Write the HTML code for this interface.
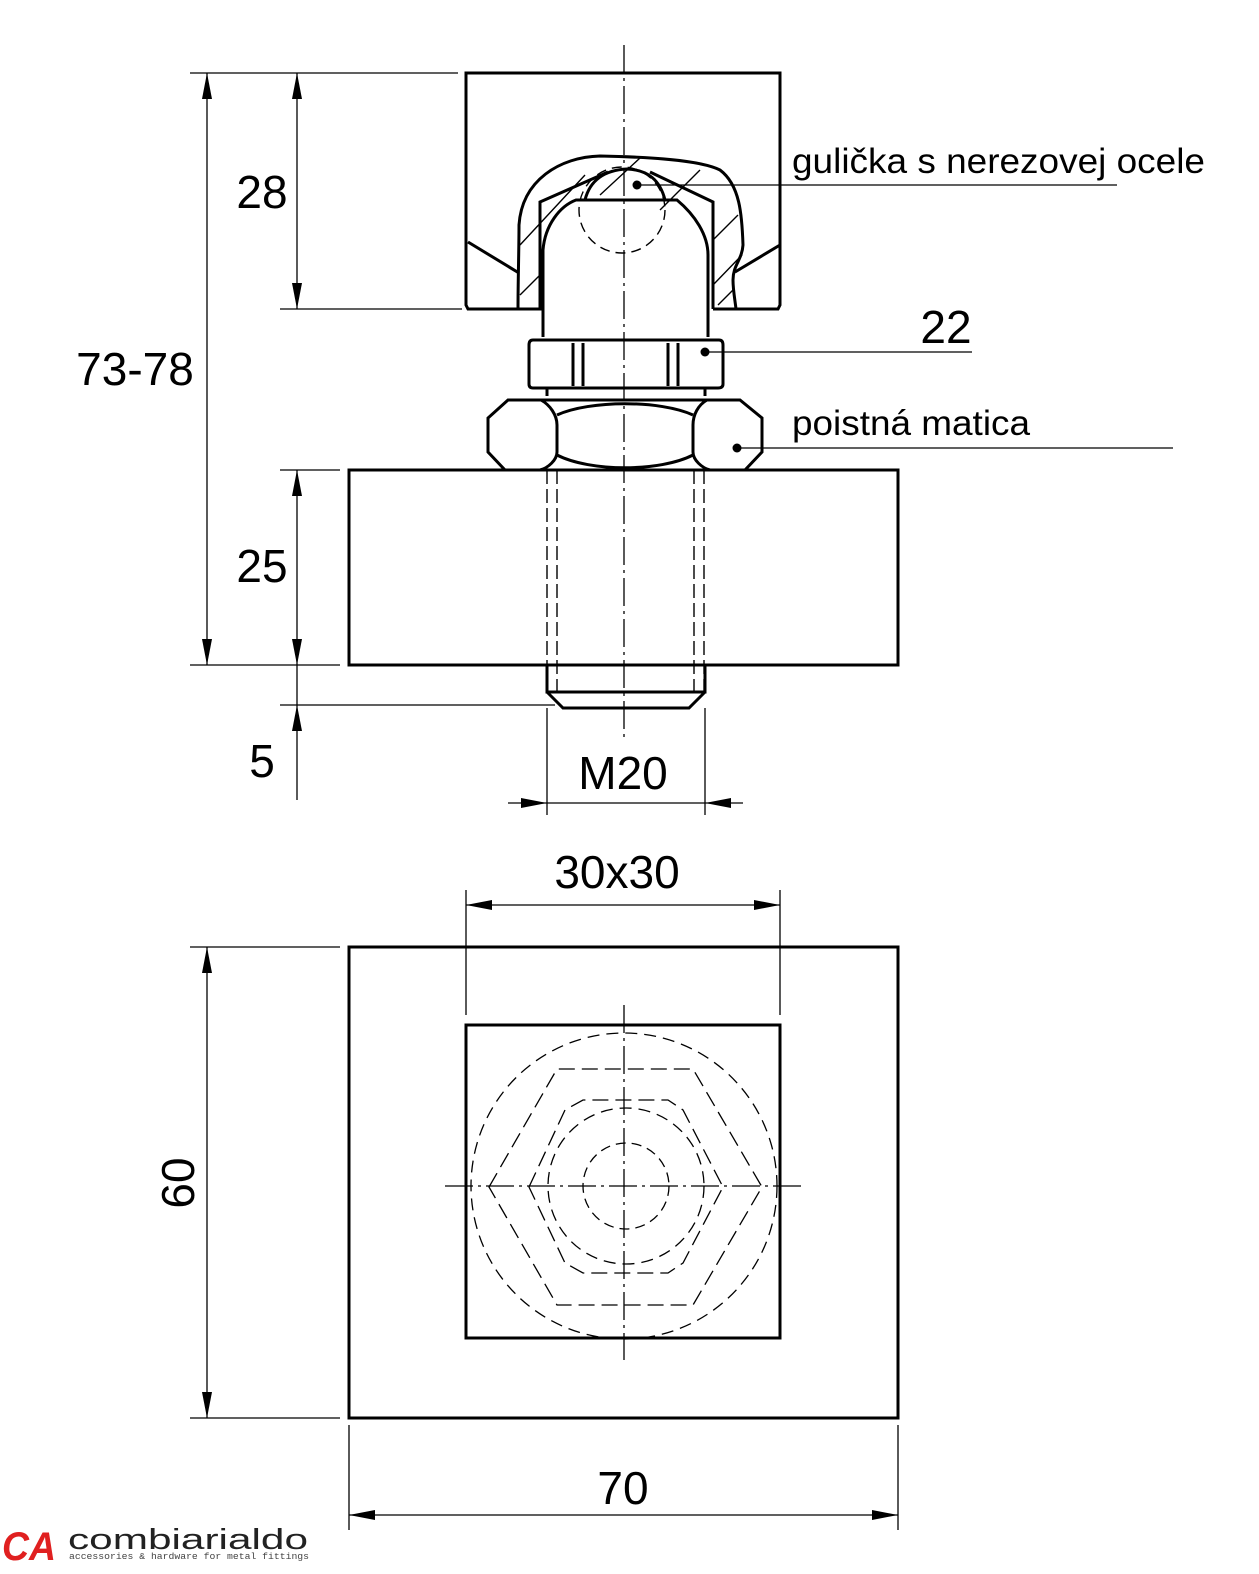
<!DOCTYPE html>
<html><head><meta charset="utf-8"><style>html,body{margin:0;padding:0;background:#fff}svg{display:block}</style></head>
<body>
<svg width="1259" height="1574" viewBox="0 0 1259 1574" xmlns="http://www.w3.org/2000/svg" font-family="Liberation Sans, Arial, sans-serif">
<defs>
<marker id="a" viewBox="0 0 26 10" refX="26" refY="5" markerWidth="26" markerHeight="10" markerUnits="userSpaceOnUse" orient="auto-start-reverse"><path d="M0,0 L26,5 L0,10 Z" fill="#000"/></marker>
</defs>
<g fill="none" stroke="#000">
<!-- centerline -->
<line x1="624" y1="45" x2="624" y2="740" stroke-width="1.3" stroke-dasharray="28,5,3,5"/>
<!-- top block -->
<g stroke-width="3">
<path d="M542,309 L468,309 L466,305 L466,73 L780,73 L780,305 L778,309 L713,309"/>
<path d="M468,242 L519,273"/><path d="M780,245 L735,272"/>
<!-- socket outer -->
<path d="M518,309 C518,280 519,250 519,225 C522,180 560,157 600,156 C650,157 700,160 720,170 C740,185 742,215 743,245 C742,260 733,265 733,280 C733,290 735,300 736,309"/>
<!-- inner housing -->
<path d="M540,309 L540,202 L608,172"/>
<path d="M713,309 L713,202 L650,172"/>
<!-- ball top -->
<path d="M585,200 C590,180 605,170 627,169 C648,170 660,180 665,200"/>
<!-- stud -->
<path d="M543,337 L543,250 C545,225 560,206 576,200 L677,200 C695,215 708,235 708,255 L708,337"/>
<!-- nut 22 -->
<path d="M533,340 L719,340 Q723,340 723,345 L723,384 Q723,388 718,388 L533,388 Q529,388 529,384 L529,345 Q529,340 533,340 Z"/>
<path d="M547,388 L547,396 M705,388 L705,396"/>
<!-- lock nut -->
<path d="M528,400 L719,400"/>
<path d="M508,400 L541,400 C550,405 557,415 557,425 L557,452 C557,460 548,468 540,470 L505,470 L488,452 L488,418 Z"/>
<path d="M740,400 L707,400 C698,405 693,415 693,425 L693,452 C693,460 702,468 710,470 L745,470 L762,452 L762,418 Z"/>
<path d="M557,415 C590,400 660,400 693,415"/>
<path d="M557,455 C590,472 660,472 693,455"/>
<!-- base block -->
<rect x="349" y="470" width="549" height="195"/>
<!-- bolt end -->
<path d="M547,665 L547,692 L705,692 L705,665"/>
<path d="M547,692 L563,708 L689,708 L705,692"/>
</g>
<g stroke-width="1.4">
<path d="M583,343 L583,386 M573,343 L573,386 M668,343 L668,386 M678,343 L678,386" stroke-width="3"/>
<!-- hatching -->
<path d="M520,245 L585,175 M520,295 L540,275 M600,195 L640,158 M660,210 L700,170 M713,240 L738,215 M713,285 L742,255 M718,305 L733,290"/>
<!-- ball dashed -->
<circle cx="622" cy="210" r="43" stroke-dasharray="10,6"/>
<!-- threads -->
<path d="M547,470 L547,692 M557,470 L557,692 M694,470 L694,692 M704,470 L704,692" stroke-dasharray="14,5"/>
</g>
<!-- dimensions & leaders -->
<g stroke-width="1.3">
<line x1="190" y1="73" x2="458" y2="73"/>
<line x1="280" y1="309" x2="462" y2="309"/>
<line x1="280" y1="470" x2="340" y2="470"/>
<line x1="190" y1="665" x2="340" y2="665"/>
<line x1="280" y1="705" x2="555" y2="705"/>
<line x1="207" y1="73" x2="207" y2="665" marker-start="url(#a)" marker-end="url(#a)"/>
<line x1="297" y1="73" x2="297" y2="309" marker-start="url(#a)" marker-end="url(#a)"/>
<line x1="297" y1="470" x2="297" y2="665" marker-start="url(#a)" marker-end="url(#a)"/>
<line x1="297" y1="665" x2="297" y2="705" />
<line x1="297" y1="705" x2="297" y2="800" marker-start="url(#a)"/>
<line x1="547" y1="708" x2="547" y2="815"/>
<line x1="705" y1="708" x2="705" y2="815"/>
<line x1="508" y1="803" x2="547" y2="803" marker-end="url(#a)"/>
<line x1="743" y1="803" x2="705" y2="803" marker-end="url(#a)"/>
<line x1="547" y1="803" x2="705" y2="803"/>
<line x1="637" y1="185" x2="1117" y2="185"/>
<line x1="705" y1="352" x2="972" y2="352"/>
<line x1="737" y1="448" x2="1173" y2="448"/>
</g>
<g fill="#000" stroke="none">
<circle cx="637" cy="185" r="4.5"/><circle cx="705" cy="352" r="4.5"/><circle cx="737" cy="448" r="4.5"/>
</g>

<!-- bottom view -->
<g stroke-width="3">
<rect x="349" y="947" width="549" height="471"/>
<rect x="466" y="1025" width="314" height="313"/>
</g>
<g stroke-width="1.3">
<circle cx="624" cy="1186" r="153" stroke-dasharray="12,7"/>
<path d="M489,1187 L557,1069 L693,1069 L762,1187 L693,1305 L557,1305 Z" stroke-dasharray="16,7"/>
<path d="M529,1187 L565,1110 L583,1100 L668,1100 L683,1110 L723,1187 L683,1263 L668,1273 L583,1273 L565,1263 Z" stroke-dasharray="16,7"/>
<circle cx="626" cy="1186" r="78" stroke-dasharray="12,7"/>
<circle cx="626" cy="1186" r="43" stroke-dasharray="10,6"/>
<line x1="624" y1="1005" x2="624" y2="1360" stroke-dasharray="28,5,3,5"/>
<line x1="445" y1="1186" x2="805" y2="1186" stroke-dasharray="28,5,3,5"/>
<line x1="466" y1="890" x2="466" y2="1015"/>
<line x1="780" y1="890" x2="780" y2="1015"/>
<line x1="466" y1="905" x2="780" y2="905" marker-start="url(#a)" marker-end="url(#a)"/>
<line x1="190" y1="947" x2="340" y2="947"/>
<line x1="190" y1="1418" x2="340" y2="1418"/>
<line x1="207" y1="947" x2="207" y2="1418" marker-start="url(#a)" marker-end="url(#a)"/>
<line x1="349" y1="1425" x2="349" y2="1530"/>
<line x1="898" y1="1425" x2="898" y2="1530"/>
<line x1="349" y1="1515" x2="898" y2="1515" marker-start="url(#a)" marker-end="url(#a)"/>
</g>
</g>
<g fill="#000" font-size="46" text-anchor="middle">
<text x="262" y="208">28</text>
<text x="135" y="385">73-78</text>
<text x="262" y="582">25</text>
<text x="262" y="777">5</text>
<text x="623" y="789">M20</text>
<text x="617" y="888">30x30</text>
<text x="623" y="1504">70</text>
<text x="0" y="0" transform="translate(194,1183) rotate(-90)">60</text>
<text x="946" y="343">22</text>
</g>
<g fill="#000" font-size="35">
<text x="792" y="173" textLength="413" lengthAdjust="spacingAndGlyphs">gulička s nerezovej ocele</text>
<text x="792" y="435" textLength="238" lengthAdjust="spacingAndGlyphs">poistná matica</text>
</g>
<!-- logo -->
<text x="2" y="1560" font-size="40" font-weight="bold" font-style="italic" fill="#e02020" textLength="54" lengthAdjust="spacingAndGlyphs">CA</text>
<text x="68" y="1549" font-size="29" fill="#222" textLength="240" lengthAdjust="spacingAndGlyphs">combiarialdo</text>
<text x="69" y="1559" font-size="9" fill="#444" textLength="240" lengthAdjust="spacingAndGlyphs" font-family="Liberation Mono, monospace">accessories &amp; hardware for metal fittings</text>
</svg>
</body></html>
